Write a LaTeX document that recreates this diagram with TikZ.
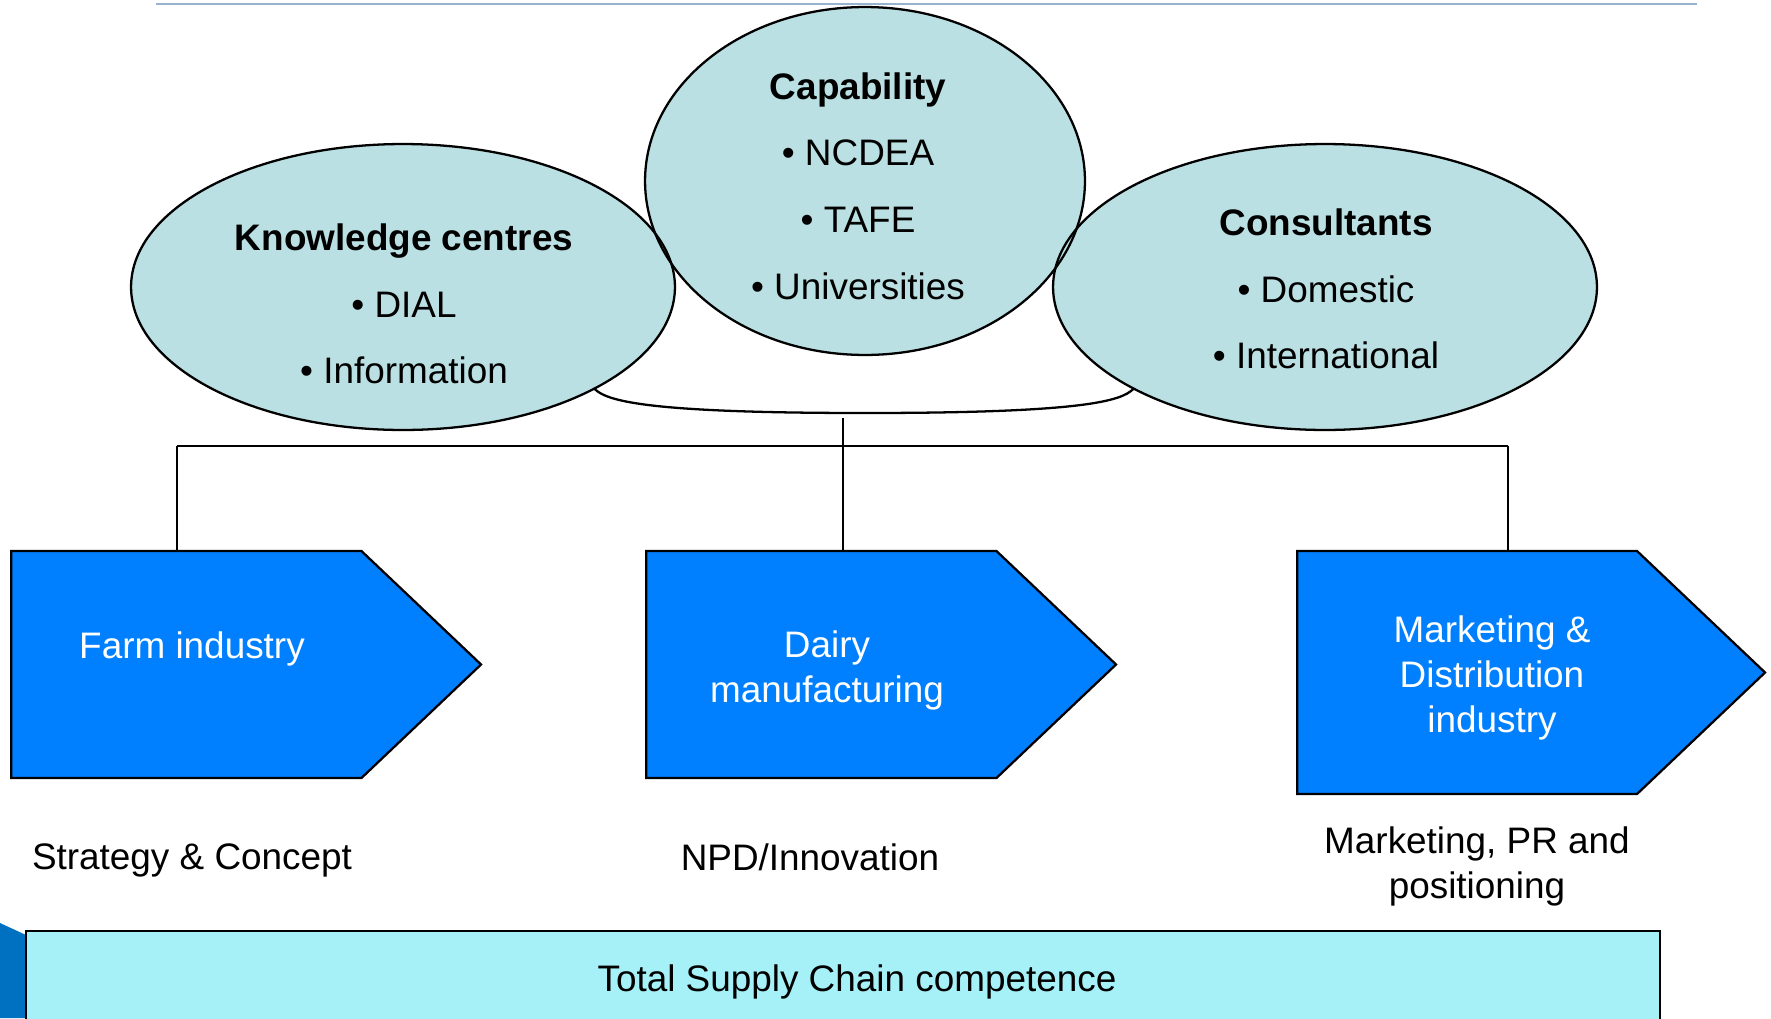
\documentclass[tikz,border=0pt]{standalone}
\usepackage{fontspec}
\setmainfont{Liberation Sans}
\usepackage{tikz}
\usetikzlibrary{shapes,shapes.geometric,shapes.symbols,arrows,positioning,calc}
\definecolor{bubblefill}{RGB}{186,224,227}
\definecolor{stageblue}{RGB}{0,128,255}
\definecolor{barfill}{RGB}{166,241,248}
\definecolor{ruleblue}{RGB}{150,178,205}
\definecolor{cornerblue}{RGB}{0,112,192}

\begin{document}
\begin{tikzpicture}[x=0.02cm, y=-0.02cm, font=\fontsize{21}{25.6}\selectfont]
  % styles
  \tikzstyle{bubble}=[ellipse, fill=bubblefill, inner sep=0pt];
  \tikzstyle{rim}=[draw=black, line width=1.3pt];
  \tikzstyle{stage}=[signal, signal to=east, signal pointer angle=87, draw=black, fill=stageblue, line width=1.3pt, inner sep=0pt, anchor=west];
  \tikzstyle{stagetxt}=[text=white, align=center];
  \tikzstyle{caption}=[align=center];
  \tikzstyle{listtxt}=[align=center, font=\fontsize{21}{38}\selectfont];
  \tikzstyle{wire}=[line width=1.6pt];

  \useasboundingbox (0,0) rectangle (1771,1018);
  \draw[ruleblue, line width=1.7pt] (156,4) -- (1697,4);

  %==================== SUPPORT BUBBLES ====================
  \node[bubble, minimum width=10.88cm, minimum height=5.72cm] (kc) at (403,287) {};
  \node[bubble, minimum width=10.88cm, minimum height=5.72cm] (cons) at (1325,287) {};
  \node[bubble, minimum width=8.8cm, minimum height=6.96cm] (cap) at (865,181) {};
  % outlines drawn after the fills so that all three rims show
  \draw[rim] (kc.center) ellipse [x radius=5.44cm, y radius=2.86cm];
  \draw[rim] (cons.center) ellipse [x radius=5.44cm, y radius=2.86cm];
  \draw[rim] (cap.center) ellipse [x radius=4.4cm, y radius=3.48cm];

  \node[listtxt] (kctxt) at (404,304) {\textbf{Knowledge centres}\\\textbullet\ DIAL\\\textbullet\ Information};
  \node[listtxt] (captxt) at (858,186) {\textbf{Capability}\\\textbullet\ NCDEA\\\textbullet\ TAFE\\\textbullet\ Universities};
  \node[listtxt] (constxt) at (1326,289) {\textbf{Consultants}\\\textbullet\ Domestic\\\textbullet\ International};

  % bracket under the bubbles
  \coordinate (dip) at (865,413);
  \draw[rim] (kc.-28.5) .. controls +(12,12) and +(-220,0) .. (dip) .. controls +(220,0) and +(-12,12) .. (cons.208.5);

  %==================== SUPPLY CHAIN STAGES ====================
  \node[stage, minimum width=9.4cm, minimum height=4.54cm] (farm) at (10,664.5) {};
  \node[stage, minimum width=9.4cm, minimum height=4.54cm] (dairy) at (645,664.5) {};
  \node[stage, minimum width=9.36cm, minimum height=4.86cm] (mkt) at (1296,672.5) {};

  \node[stagetxt] (farmtxt) at (192,648.5) {Farm industry};
  \node[stagetxt] (dairytxt) at (827,670.5) {Dairy\\manufacturing};
  \node[stagetxt] (mkttxt) at (1492,677.5) {Marketing \&\\Distribution\\industry};

  % tree from the bracket to the stages
  \coordinate (hub) at (843,418);
  \coordinate (jl) at (177,446);
  \coordinate (jr) at (1508,446);
  \draw[wire] (hub) -- (hub |- dairy.north);
  \draw[wire] (jl) -- (jr);
  \draw[wire] (jl) -- (jl |- farm.north);
  \draw[wire] (jr) -- (jr |- mkt.north);

  % captions under the stages
  \node[caption] (strat) at (192,860.5) {Strategy \& Concept};
  \node[caption] (npd) at (810,857) {NPD/Innovation};
  \node[caption] (mktpr) at (1477,866.5) {Marketing, PR and\\positioning};

  %==================== COMPETENCE BAR ====================
  \fill[cornerblue] (0,923) -- (26,935) -- (26,1018) -- (0,1018) -- cycle;
  \node[draw=black, fill=barfill, line width=1.2pt, anchor=north west, minimum width=32.68cm, minimum height=1.92cm] (total) at (25,930) {};
  \node (totaltxt) at (857,981.5) {Total Supply Chain competence};
\end{tikzpicture}
\end{document}
